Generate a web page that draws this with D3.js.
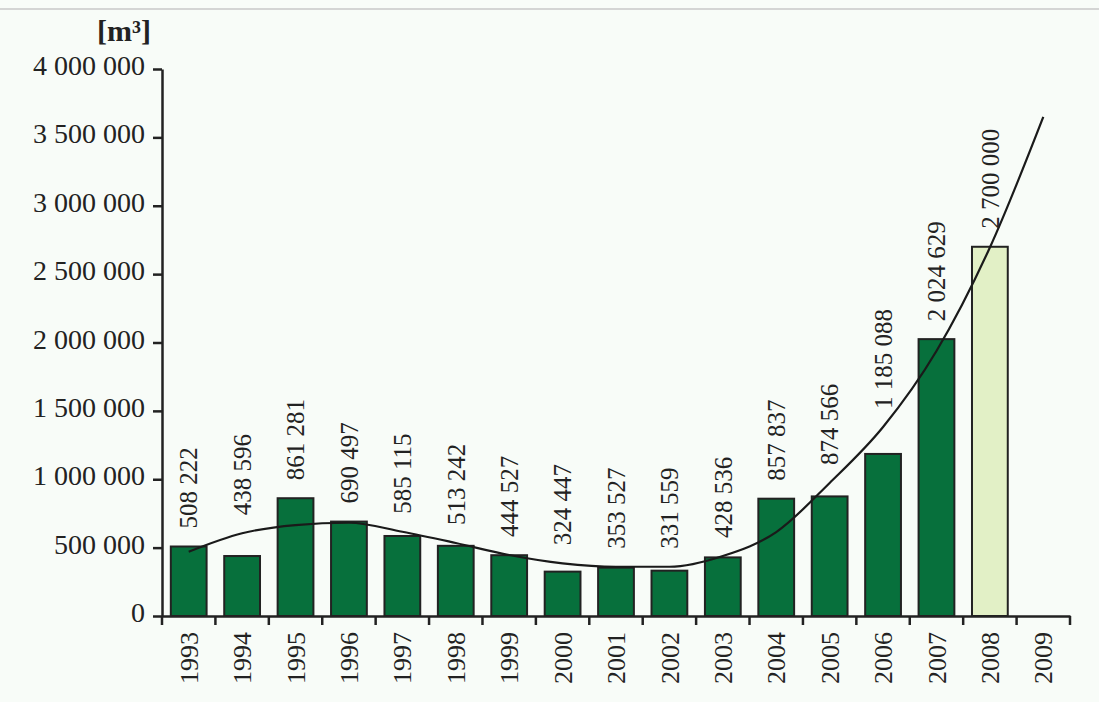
<!DOCTYPE html>
<html>
<head>
<meta charset="utf-8">
<script src="https://cdn.jsdelivr.net/npm/d3@7"></script>
<style>
body { margin: 0; background: #f8fcf8; }
svg text { font-family: "Liberation Serif", "Times New Roman", serif; fill: #222; }
</style>
</head>
<body>
<script>
// data
var years = ["1993", "1994", "1995", "1996", "1997", "1998", "1999", "2000", "2001",
             "2002", "2003", "2004", "2005", "2006", "2007", "2008", "2009"]
var volumes = [508222, 438596, 861281, 690497, 585115, 513242, 444527, 324447, 353527,
               331559, 428536, 857837, 874566, 1185088, 2024629, 2700000, null]
// trend curve (estimated at each year)
var trend = [470000, 605000, 665000, 682000, 616000, 534000, 446000, 385000, 360000,
             360000, 439000, 614000, 973000, 1382000, 1938000, 2695000, 3650000]
var yTicks = [0, 500000, 1000000, 1500000, 2000000, 2500000, 3000000, 3500000, 4000000]
var plannedYear = "2008"
var unitLabel = "[m³]"

var width = 1099, height = 702
var serif = "'Liberation Serif', 'Times New Roman', serif"

var svg = d3.select("body")
    .append("svg")
    .attr("width", width)
    .attr("height", height)

// thin grey line at the top
svg.append("line")
    .attr("x1", 0).attr("x2", width)
    .attr("y1", 9).attr("y2", 9)
    .attr("stroke", "#c8c8c8")
    .attr("stroke-width", 1.5)

var x = d3.scaleBand()
    .domain(years)
    .range([162, 1070])
    .paddingInner(0.33)
    .paddingOuter(0.165)

var y = d3.scaleLinear()
    .domain([0, 4000000])
    .range([616, 69])

var loc = d3.formatLocale({decimal: ",", thousands: " ", grouping: [3], currency: ["", ""]})
var fmt = loc.format(",d")

// bars
svg.append("g")
    .selectAll("rect")
    .data(years.filter(function (d, i) { return volumes[i] != null }))
    .enter()
    .append("rect")
    .attr("x", function (d) { return x(d) })
    .attr("width", x.bandwidth())
    .attr("y", function (d) { return y(volumes[years.indexOf(d)]) })
    .attr("height", function (d) { return y(0) - y(volumes[years.indexOf(d)]) })
    .attr("fill", function (d) { return d == plannedYear ? "#e2f0c6" : "#07703c" })
    .attr("stroke", "#222")
    .attr("stroke-width", 2)

// trend line
var line = d3.line()
    .x(function (d, i) { return x(years[i]) + x.bandwidth() / 2 })
    .y(function (d) { return y(d) })
    .curve(d3.curveMonotoneX)

svg.append("path")
    .datum(trend)
    .attr("d", line)
    .attr("fill", "none")
    .attr("stroke", "#1a1a1a")
    .attr("stroke-width", 2.2)

// value labels
svg.append("g")
    .selectAll("text")
    .data(years.filter(function (d, i) { return volumes[i] != null }))
    .enter()
    .append("text")
    .attr("transform", function (d) {
        var i = years.indexOf(d)
        var top = Math.min(y(volumes[i]), y(trend[i])) - 18
        return "translate(" + (x(d) + x.bandwidth() / 2) + "," + top + ") rotate(-90)"
    })
    .attr("dy", "0.35em")
    .attr("text-anchor", "start")
    .style("font-family", serif)
    .style("font-size", "25px")
    .text(function (d) { return fmt(volumes[years.indexOf(d)]) })

// y axis
var yAxis = svg.append("g")
    .attr("transform", "translate(162,0)")
    .call(d3.axisLeft(y).tickValues(yTicks).tickSize(9).tickSizeOuter(0).tickPadding(8).tickFormat(fmt))
yAxis.select(".domain").attr("stroke", "#222").attr("stroke-width", 2.5)
yAxis.selectAll(".tick line").attr("stroke", "#222").attr("stroke-width", 2.5)
yAxis.selectAll(".tick text")
    .style("font-family", serif)
    .style("font-size", "28px")
    .attr("dy", "0.2em")

// x axis: line plus ticks between the bars
var xAxis = svg.append("g")
    .attr("transform", "translate(0," + y(0) + ")")
    .call(d3.axisBottom(x).tickValues([]).tickSizeOuter(0))
xAxis.select(".domain").attr("stroke", "#222").attr("stroke-width", 2.5)

var bounds = years.map(function (d) { return x(d) + x.bandwidth() / 2 - x.step() / 2 })
bounds.push(x(years[years.length - 1]) + x.bandwidth() / 2 + x.step() / 2)

xAxis.selectAll("line.sep")
    .data(bounds)
    .enter()
    .append("line")
    .attr("class", "sep")
    .attr("x1", function (d) { return d })
    .attr("x2", function (d) { return d })
    .attr("y1", 0)
    .attr("y2", 9)
    .attr("stroke", "#222")
    .attr("stroke-width", 2.5)

xAxis.selectAll("text.yr")
    .data(years)
    .enter()
    .append("text")
    .attr("class", "yr")
    .attr("transform", function (d) {
        return "translate(" + (x(d) + x.bandwidth() / 2) + ",16) rotate(-90)"
    })
    .attr("dy", "0.35em")
    .attr("text-anchor", "end")
    .style("font-family", serif)
    .style("font-size", "26px")
    .text(function (d) { return d })

// unit
svg.append("text")
    .attr("x", 124)
    .attr("y", 41)
    .attr("text-anchor", "middle")
    .style("font-family", serif)
    .style("font-size", "30px")
    .style("font-weight", "bold")
    .text(unitLabel)
</script>
</body>
</html>
